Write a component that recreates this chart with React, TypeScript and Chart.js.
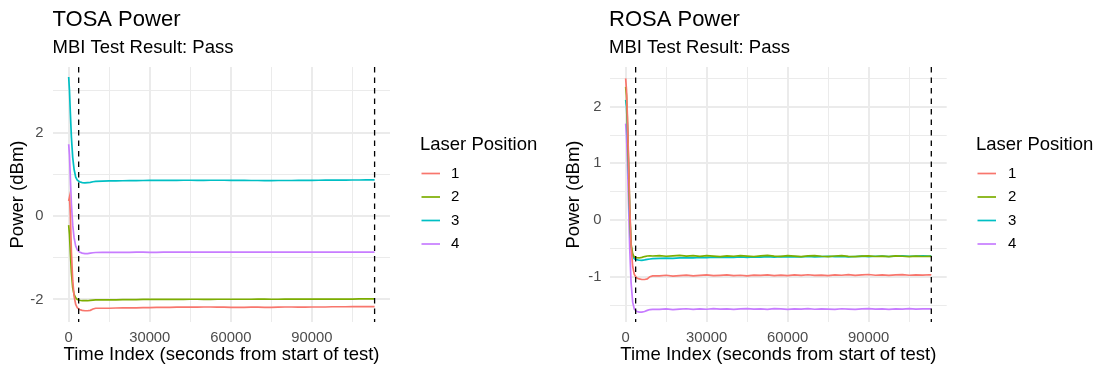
import { useEffect, useRef } from "react";
import { Chart, registerables } from "chart.js";

Chart.register(...registerables);

const FONT = "'Liberation Sans', Arial, Helvetica, sans-serif";

// Laser positions and their hue colours
const laserPositions = ["1", "2", "3", "4"];
const laserColors = ["#F8766D", "#7CAE00", "#00BFC4", "#C77CFF"];

// Sample times (seconds from start of test)
const timeSec = [
  0, 300, 600, 1000, 1500, 2000, 2600, 3200, 4000, 5000, 6000, 7000, 8000, 9000, 10000,
  12500, 15000, 17500, 20000, 22500, 25000, 27500, 30000, 32500, 35000,
  37500, 40000, 42500, 45000, 47500, 50000, 52500, 55000, 57500, 60000,
  62500, 65000, 67500, 70000, 72500, 75000, 77500, 80000, 82500, 85000,
  87500, 90000, 92500, 95000, 97500, 100000, 102500, 105000, 107500, 110000,
  112500, 113200,
];

// TOSA power (dBm) per laser position
const tosa1 = [
  0.36, 0.45, 0.05, -0.85, -1.55, -1.92, -2.12, -2.2, -2.24, -2.26, -2.27, -2.27, -2.26, -2.23, -2.21,
  -2.21, -2.21, -2.205, -2.2, -2.2, -2.2, -2.195, -2.195, -2.19, -2.19,
  -2.19, -2.185, -2.185, -2.185, -2.185, -2.18, -2.18, -2.185, -2.185, -2.19,
  -2.19, -2.19, -2.185, -2.185, -2.19, -2.19, -2.185, -2.18, -2.18, -2.185,
  -2.185, -2.18, -2.18, -2.18, -2.175, -2.175, -2.175, -2.17, -2.17, -2.17,
  -2.17, -2.17,
];
const tosa2 = [
  -0.22, -0.45, -0.85, -1.35, -1.72, -1.88, -1.96, -2.0, -2.02, -2.03, -2.03, -2.03, -2.02, -2.015, -2.01,
  -2.01, -2.01, -2.01, -2.005, -2.005, -2.005, -2.0, -2.0, -2.0, -2.0,
  -2.0, -2.0, -2.0, -1.995, -1.995, -2.0, -2.0, -1.995, -1.995, -1.995,
  -1.995, -1.995, -1.995, -1.99, -1.99, -1.995, -1.995, -1.99, -1.99, -1.99,
  -1.99, -1.99, -1.99, -1.99, -1.99, -1.99, -1.99, -1.99, -1.985, -1.985,
  -1.985, -1.985,
];
const tosa3 = [
  3.33, 3.0, 2.5, 1.9, 1.4, 1.12, 0.93, 0.86, 0.82, 0.8, 0.795, 0.8, 0.805, 0.82, 0.83,
  0.835, 0.84, 0.842, 0.845, 0.847, 0.848, 0.85, 0.852, 0.853, 0.853,
  0.854, 0.855, 0.856, 0.856, 0.855, 0.855, 0.856, 0.857, 0.856, 0.855,
  0.853, 0.852, 0.851, 0.85, 0.849, 0.849, 0.85, 0.85, 0.851, 0.852,
  0.853, 0.855, 0.857, 0.858, 0.859, 0.86, 0.861, 0.862, 0.863, 0.864,
  0.865, 0.866,
];
const tosa4 = [
  1.72, 1.45, 0.95, 0.3, -0.22, -0.52, -0.72, -0.81, -0.865, -0.89, -0.9, -0.9, -0.89, -0.88, -0.875,
  -0.872, -0.872, -0.87, -0.87, -0.87, -0.868, -0.868, -0.87, -0.87, -0.868,
  -0.866, -0.866, -0.868, -0.868, -0.866, -0.865, -0.865, -0.866, -0.866, -0.865,
  -0.865, -0.866, -0.866, -0.865, -0.864, -0.864, -0.865, -0.866, -0.866, -0.865,
  -0.864, -0.864, -0.865, -0.866, -0.866, -0.865, -0.865, -0.864, -0.864, -0.865,
  -0.865, -0.864,
];

// ROSA power (dBm) per laser position
const rosa1 = [
  2.5, 2.3, 1.9, 1.2, 0.25, -0.45, -0.82, -0.96, -1.02, -1.04, -1.05, -1.05, -1.04, -1.0, -0.985,
  -0.985, -0.975, -0.99, -0.98, -0.972, -0.985, -0.978, -0.97, -0.982, -0.976,
  -0.968, -0.98, -0.975, -0.985, -0.972, -0.978, -0.968, -0.98, -0.974, -0.982,
  -0.97, -0.976, -0.966, -0.978, -0.972, -0.98, -0.968, -0.975, -0.965, -0.978,
  -0.97, -0.962, -0.975, -0.968, -0.978, -0.97, -0.964, -0.975, -0.968, -0.972,
  -0.966, -0.97,
];
const rosa2 = [
  2.35, 2.2, 1.82, 1.12, 0.2, -0.42, -0.6, -0.655, -0.665, -0.67, -0.66, -0.645, -0.635, -0.632, -0.635,
  -0.628, -0.64, -0.632, -0.625, -0.638, -0.63, -0.642, -0.628, -0.636, -0.645,
  -0.632, -0.64, -0.628, -0.636, -0.644, -0.632, -0.626, -0.638, -0.642, -0.63,
  -0.636, -0.645, -0.634, -0.628, -0.64, -0.646, -0.635, -0.63, -0.642, -0.648,
  -0.636, -0.632, -0.644, -0.638, -0.646, -0.634, -0.64, -0.648, -0.638, -0.644,
  -0.64, -0.642,
];
const rosa3 = [
  2.12, 2.0, 1.7, 1.02, 0.1, -0.46, -0.63, -0.685, -0.7, -0.71, -0.712, -0.705, -0.695, -0.688, -0.682,
  -0.678, -0.672, -0.676, -0.668, -0.664, -0.67, -0.66, -0.665, -0.656, -0.662,
  -0.655, -0.66, -0.652, -0.658, -0.65, -0.656, -0.648, -0.654, -0.646, -0.652,
  -0.645, -0.65, -0.644, -0.652, -0.646, -0.64, -0.648, -0.642, -0.65, -0.644,
  -0.638, -0.646, -0.64, -0.636, -0.644, -0.638, -0.632, -0.64, -0.636, -0.632,
  -0.638, -0.634,
];
const rosa4 = [
  1.7, 1.5, 1.12, 0.42, -0.5, -1.1, -1.45, -1.57, -1.61, -1.625, -1.625, -1.615, -1.595, -1.58, -1.578,
  -1.576, -1.57, -1.58, -1.572, -1.566, -1.578, -1.57, -1.575, -1.565, -1.574,
  -1.568, -1.578, -1.57, -1.565, -1.574, -1.568, -1.576, -1.565, -1.57, -1.578,
  -1.568, -1.572, -1.564, -1.575, -1.568, -1.572, -1.578, -1.566, -1.572, -1.576,
  -1.568, -1.564, -1.574, -1.57, -1.578, -1.568, -1.572, -1.565, -1.574, -1.568,
  -1.57, -1.566,
];

// Axis breaks: all gridline positions, and the ones that carry a label
const xBreaks = [0, 15000, 30000, 45000, 60000, 75000, 90000, 105000];
const xLabelled = [0, 30000, 60000, 90000];
const tosaYBreaks = [-2, -1, 0, 1, 2, 3];
const tosaYLabelled = [-2, 0, 2];
const rosaYBreaks = [-1.5, -1, -0.5, 0, 0.5, 1, 1.5, 2, 2.5];
const rosaYLabelled = [-1, 0, 1, 2];

// Start and end of the MBI evaluation window (seconds)
const testWindow = [3700, 113200];

const panelDecor = {
  id: "panelDecor",
  afterDatasetsDraw(chart: any, _args: any, opts: any) {
    const { ctx, chartArea, scales } = chart;
    ctx.save();
    ctx.strokeStyle = "#000";
    ctx.lineWidth = 1.3;
    ctx.setLineDash([5.5, 5]);
    for (const t of opts.markers) {
      const x = scales.x.getPixelForValue(t);
      ctx.beginPath();
      ctx.moveTo(x, chartArea.top);
      ctx.lineTo(x, chartArea.bottom);
      ctx.stroke();
    }
    ctx.restore();
  },
  afterDraw(chart: any, _args: any, opts: any) {
    const { ctx } = chart;
    ctx.save();
    ctx.fillStyle = "#000";
    ctx.textAlign = "left";
    ctx.textBaseline = "alphabetic";
    ctx.font = `22px ${FONT}`;
    ctx.fillText(opts.title, opts.titleX, 26);
    ctx.font = `18.5px ${FONT}`;
    ctx.fillText(opts.subtitle, opts.titleX, 52.5);

    // legend
    ctx.fillText("Laser Position", opts.legendX, 150);
    ctx.font = `15px ${FONT}`;
    ctx.textBaseline = "middle";
    chart.data.datasets.forEach((ds: any, i: number) => {
      const y = 173.5 + i * 23.5;
      ctx.strokeStyle = ds.borderColor;
      ctx.lineWidth = 1.7;
      ctx.beginPath();
      ctx.moveTo(opts.legendX + 1.5, y);
      ctx.lineTo(opts.legendX + 20, y);
      ctx.stroke();
      ctx.fillStyle = "#000";
      ctx.fillText(ds.label, opts.legendX + opts.legendTextDx, y);
    });
    ctx.restore();
  },
};

type PanelProps = {
  title: string;
  subtitle: string;
  series: number[][];
  yBreaks: number[];
  yLabelled: number[];
  yMin: number;
  yMax: number;
  plotLeft: number;
  plotRight: number;
  yTitlePad: number;
  yTickPad: number;
  titleX: number;
  legendX: number;
  legendTextDx: number;
};

const W = 551;
const H = 372;

function Panel(p: PanelProps) {
  const ref = useRef<HTMLCanvasElement | null>(null);
  useEffect(() => {
    if (!ref.current) return;
    const grid = (labelled: number[]) => ({
      color: "#ebebeb",
      drawTicks: false,
      lineWidth: (c: any) => (c.tick && labelled.includes(c.tick.value) ? 2 : 1),
    });
    const chart = new Chart(ref.current, {
      type: "line",
      data: {
        datasets: p.series.map((vals, i) => ({
          label: laserPositions[i],
          data: timeSec.map((t, j) => ({ x: t, y: vals[j] })),
          borderColor: laserColors[i],
          backgroundColor: laserColors[i],
          borderWidth: 1.7,
          pointRadius: 0,
          tension: 0,
          fill: false,
        })),
      },
      options: {
        responsive: false,
        animation: false,
        events: [],
        layout: { padding: { left: 0, top: 67, right: W - p.plotRight, bottom: 0 } },
        plugins: {
          legend: { display: false },
          tooltip: { enabled: false },
          panelDecor: {
            title: p.title,
            subtitle: p.subtitle,
            titleX: p.titleX,
            legendX: p.legendX,
            legendTextDx: p.legendTextDx,
            markers: testWindow,
          },
        } as any,
        scales: {
          x: {
            type: "linear",
            min: -5800,
            max: 118900,
            border: { display: false },
            grid: grid(xLabelled),
            afterBuildTicks: (axis: any) => {
              axis.ticks = xBreaks.map((value) => ({ value }));
            },
            afterFit: (axis: any) => {
              axis.height = 50;
            },
            ticks: {
              autoSkip: false,
              maxRotation: 0,
              padding: 7,
              color: "#4d4d4d",
              font: { family: FONT, size: 14.8 },
              callback: (v: any) => (xLabelled.includes(Number(v)) ? String(v) : ""),
            },
            title: {
              display: true,
              text: "Time Index (seconds from start of test)",
              color: "#000",
              font: { family: FONT, size: 18.5 },
              padding: { top: 0, bottom: 6 },
            },
          },
          y: {
            type: "linear",
            min: p.yMin,
            max: p.yMax,
            border: { display: false },
            grid: grid(p.yLabelled),
            afterBuildTicks: (axis: any) => {
              axis.ticks = p.yBreaks.map((value) => ({ value }));
            },
            afterFit: (axis: any) => {
              axis.width = p.plotLeft;
            },
            ticks: {
              autoSkip: false,
              padding: p.yTickPad,
              color: "#4d4d4d",
              font: { family: FONT, size: 14.8 },
              callback: (v: any) => (p.yLabelled.includes(Number(v)) ? String(v) : ""),
            },
            title: {
              display: true,
              text: "Power (dBm)",
              color: "#000",
              font: { family: FONT, size: 18.5 },
              padding: { top: p.yTitlePad, bottom: 0 },
            },
          },
        },
      },
      plugins: [panelDecor as any],
    });
    return () => chart.destroy();
  }, []);
  return (
    <div style={{ width: W, height: H, position: "relative" }}>
      <canvas ref={ref} width={W} height={H} style={{ display: "block" }} />
    </div>
  );
}

export default function App() {
  return (
    <div
      style={{
        position: "absolute",
        left: 0,
        top: 0,
        width: 1102,
        height: 372,
        background: "#fff",
        display: "flex",
      }}
    >
      <Panel
        title="TOSA Power"
        subtitle="MBI Test Result: Pass"
        series={[tosa1, tosa2, tosa3, tosa4]}
        yBreaks={tosaYBreaks}
        yLabelled={tosaYLabelled}
        yMin={-2.54}
        yMax={3.57}
        plotLeft={53}
        plotRight={390}
        yTitlePad={6.4}
        yTickPad={9.5}
        titleX={52.5}
        legendX={420}
        legendTextDx={31}
      />
      <Panel
        title="ROSA Power"
        subtitle="MBI Test Result: Pass"
        series={[rosa1, rosa2, rosa3, rosa4]}
        yBreaks={rosaYBreaks}
        yLabelled={rosaYLabelled}
        yMin={-1.8}
        yMax={2.7}
        plotLeft={59}
        plotRight={395.7}
        yTitlePad={11.9}
        yTickPad={8.5}
        titleX={58}
        legendX={425}
        legendTextDx={32}
      />
    </div>
  );
}
